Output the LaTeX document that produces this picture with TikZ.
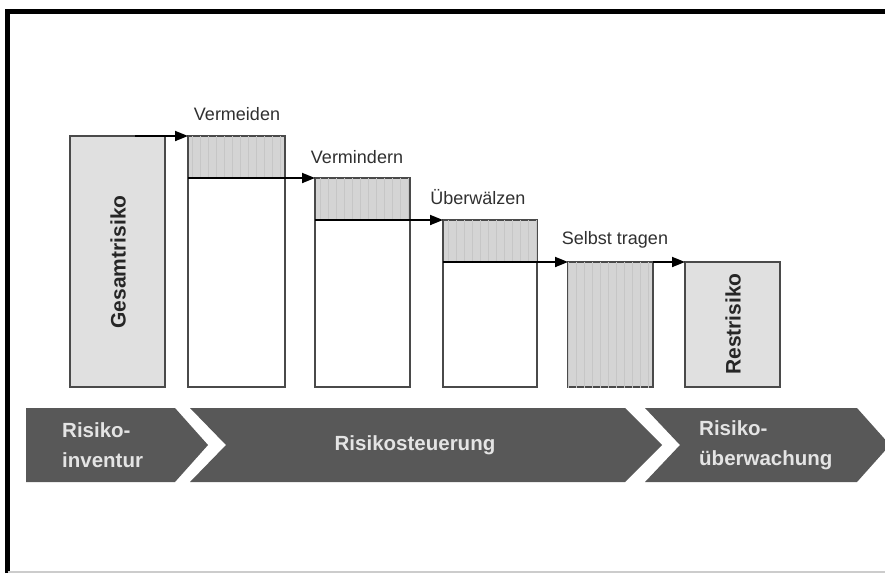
\documentclass[tikz,border=0pt]{standalone}
\usepackage{fontspec}
\setmainfont{Liberation Sans}
\usetikzlibrary{arrows.meta,patterns.meta}
\definecolor{boxline}{HTML}{4A4A4A}
\definecolor{hatchfill}{HTML}{D4D4D4}
\definecolor{lightfill}{HTML}{E0E0E0}
\definecolor{chevfill}{HTML}{585858}
\definecolor{chevtext}{HTML}{E4E4E4}
\definecolor{labeltext}{HTML}{303030}
\tikzset{
  bar/.style={draw=boxline, line width=1.4pt},
  hatched/.style={bar, fill=hatchfill, postaction={pattern={Lines[angle=90,distance=8pt,line width=0.5pt]}, pattern color=gray!45}},
  plainfill/.style={bar, fill=lightfill},
  emptybar/.style={bar, fill=white},
  flow/.style={draw=black, line width=1.8pt, -{Triangle[length=13pt,width=10pt]}},
  steplabel/.style={font=\fontsize{18}{20}\selectfont, text=labeltext, inner sep=0pt},
  rotlabel/.style={font=\fontsize{21}{24}\selectfont\bfseries, text=black!85, rotate=90, inner sep=0pt},
  chevron/.style={fill=chevfill, draw=none},
  chevlabel/.style={font=\fontsize{20.5}{30}\selectfont\bfseries, text=chevtext, align=left, inner sep=0pt},
}
\begin{document}
\begin{tikzpicture}[x=1pt,y=-1pt]
\useasboundingbox (0,0) rectangle (885,573);
\fill[white] (0,0) rectangle (885,573);
% frame
\draw[line width=4.5pt,black] (7.5,573) -- (7.5,11.5) -- (885,11.5);
\draw[line width=1.2pt,black!20] (7.5,572) -- (885,572);

% bar 1: Gesamtrisiko
\path[plainfill] (70,136) rectangle (165,387);
\node[rotlabel] (ges) at (118,262) {Gesamtrisiko};
\coordinate (a1) at (135,136);

% bar 2: Vermeiden
\path[emptybar] (188,136) rectangle (285,387);
\path[hatched] (188,136) rectangle (285,178);
\coordinate (b2top) at (188,136);
\coordinate (b2div) at (188,178);
\node[steplabel] (verm) at (237,114) {Vermeiden};

% bar 3: Vermindern
\path[emptybar] (315,178) rectangle (410,387);
\path[hatched] (315,178) rectangle (410,220);
\coordinate (b3top) at (315,178);
\coordinate (b3div) at (315,220);
\node[steplabel] (vmin) at (357,157) {Vermindern};

% bar 4: Überwälzen
\path[emptybar] (443,220) rectangle (537,387);
\path[hatched] (443,220) rectangle (537,262);
\coordinate (b4top) at (443,220);
\coordinate (b4div) at (443,262);
\node[steplabel] (uebw) at (478,197) {Überwälzen};

% bar 5: Selbst tragen
\path[hatched] (568,262) rectangle (653,387);
\coordinate (b5top) at (568,262);
\coordinate (b5right) at (653,262);
\node[steplabel] (selb) at (615,240) {Selbst tragen};

% bar 6: Restrisiko
\path[plainfill] (685,262) rectangle (780,387);
\coordinate (b6top) at (685,262);
\node[rotlabel] (rest) at (733,324) {Restrisiko};

% connectors
\draw[flow] (a1) -- (b2top);
\draw[flow] (b2div) -- (b3top);
\draw[flow] (b3div) -- (b4top);
\draw[flow] (b4div) -- (b5top);
\draw[flow] (b5right) -- (b6top);

% chevrons
\path[chevron] (26,408) -- (175,408) -- (208,445) -- (175,482) -- (26,482) -- cycle;
\path[chevron] (190,408) -- (625,408) -- (662,445) -- (625,482) -- (190,482) -- (226,445) -- cycle;
\path[chevron] (645,408) -- (857,408) -- (890,445) -- (857,482) -- (645,482) -- (680,445) -- cycle;
\node[chevlabel, anchor=west] (inv) at (62,445) {Risiko-\\inventur};
\node[chevlabel] (steu) at (415,445) {Risikosteuerung};
\node[chevlabel, anchor=west] (ueb) at (699,445) {Risiko-\\überwachung};
\end{tikzpicture}
\end{document}
